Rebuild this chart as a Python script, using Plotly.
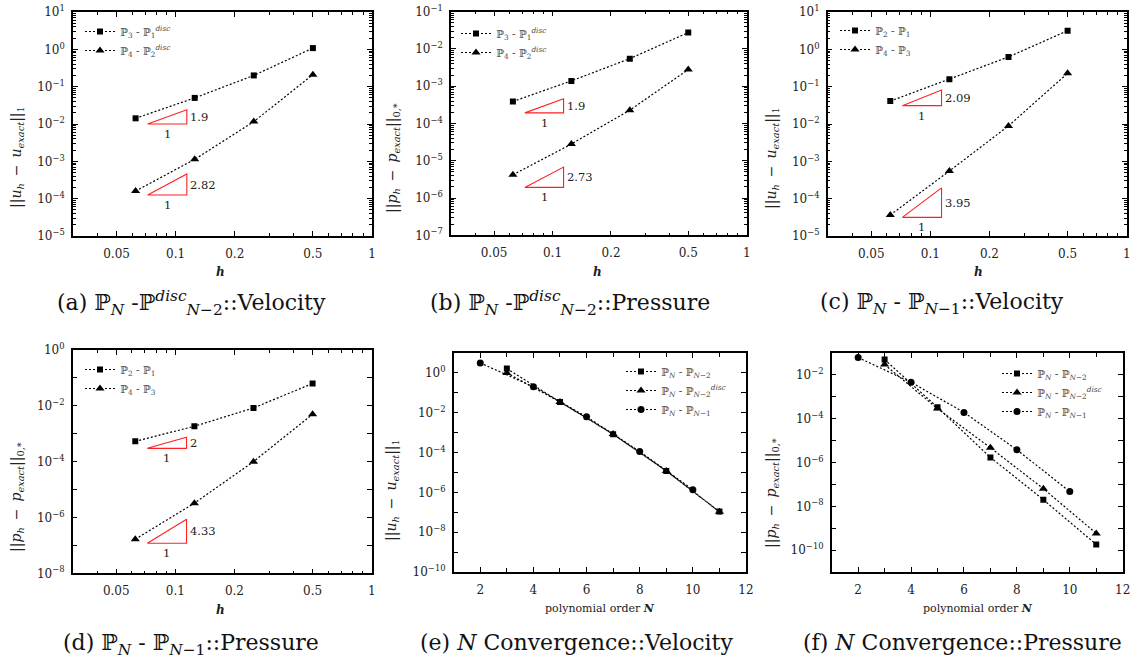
import math
import plotly.graph_objects as go

W, H = 1133, 664

# ---------------- data ----------------
h = [0.0625, 0.125, 0.25, 0.5]
a_sq = [1.42e-2, 5.0e-2, 2.0e-1, 1.08]
a_tri = [1.6e-4, 1.13e-3, 1.16e-2, 2.1e-1]
b_sq = [3.9e-4, 1.39e-3, 5.5e-3, 2.75e-2]
b_tri = [4.2e-6, 2.8e-5, 2.28e-4, 2.8e-3]
c_sq = [4.1e-2, 1.57e-1, 6.25e-1, 3.16]
c_tri = [3.66e-5, 5.5e-4, 8.9e-3, 2.28e-1]
d_sq = [5.35e-4, 1.85e-3, 8.4e-3, 6.3e-2]
d_tri = [1.66e-7, 3.26e-6, 1.0e-4, 4.97e-3]

N_odd = [3, 5, 7, 9, 11]
N_even = [2, 4, 6, 8, 10]
e_sq = [1.65, 3.5e-2, 8.3e-4, 1.2e-5, 1.08e-7]
e_tri = [1.0, 3.5e-2, 8.5e-4, 1.2e-5, 1.05e-7]
e_circ = [3.16, 0.2, 6.3e-3, 1.12e-4, 1.36e-6]
f_sq = [5.0e-2, 3.3e-4, 1.7e-6, 2.0e-8, 1.8e-10]
f_tri = [2.95e-2, 2.9e-4, 4.7e-6, 6.4e-8, 5.8e-10]
f_circ = [6.2e-2, 4.6e-3, 1.94e-4, 3.8e-6, 4.7e-8]

# slope triangles (h-range, base values, slopes) per h-panel
tri_h = [0.072, 0.114]
slope_a = [1.9, 2.82]; base_a = [1.0e-2, 1.25e-4]
slope_b = [1.9, 2.73]; base_b = [1.93e-4, 1.93e-6]
slope_c = [2.09, 3.95]; base_c = [3.1e-2, 3.16e-5]
slope_d = [2, 4.33]; base_d = [3.0e-4, 1.19e-7]

h_ticks = [0.05, 0.1, 0.2, 0.5, 1]
h_ticktext = ["0.05", "0.1", "0.2", "0.5", "1"]
h_minor = [0.03, 0.04, 0.06, 0.07, 0.08, 0.09, 0.3, 0.4, 0.6, 0.7, 0.8, 0.9]

P = "\u2119"
leg_disc = [P + "<sub>3</sub> - " + P + "<sub>1</sub><sup><i>disc</i></sup>",
            P + "<sub>4</sub> - " + P + "<sub>2</sub><sup><i>disc</i></sup>"]
leg_cont = [P + "<sub>2</sub> - " + P + "<sub>1</sub>",
            P + "<sub>4</sub> - " + P + "<sub>3</sub>"]
leg_N = [P + "<sub><i>N</i></sub> - " + P + "<sub><i>N</i>\u22122</sub>",
         P + "<sub><i>N</i></sub> - " + P + "<sub><i>N</i>\u22122</sub><sup><i>disc</i></sup>",
         P + "<sub><i>N</i></sub> - " + P + "<sub><i>N</i>\u22121</sub>"]

captions = [
    "(a) " + P + "<sub><i>N</i></sub> -" + P + "<sup><i>disc</i></sup><sub><i>N</i>\u22122</sub>::Velocity",
    "(b) " + P + "<sub><i>N</i></sub> -" + P + "<sup><i>disc</i></sup><sub><i>N</i>\u22122</sub>::Pressure",
    "(c) " + P + "<sub><i>N</i></sub> - " + P + "<sub><i>N</i>\u22121</sub>::Velocity",
    "(d) " + P + "<sub><i>N</i></sub> - " + P + "<sub><i>N</i>\u22121</sub>::Pressure",
    "(e) <i>N</i> Convergence::Velocity",
    "(f) <i>N</i> Convergence::Pressure",
]
ytitle_u = "||<i>u<sub>h</sub></i>\u2002\u2212\u2002<i>u<sub>exact</sub></i>||<sub>1</sub>"
ytitle_p = "||<i>p<sub>h</sub></i>\u2002\u2212\u2002<i>p<sub>exact</sub></i>||<sub>0,*</sub>"

# ---------------- layout geometry (pixels) ----------------
boxes = [
    (73, 372, 12, 236),
    (451, 746.7, 11.7, 235.3),
    (827.7, 1126.7, 12, 236),
    (72.7, 371.7, 350, 573.3),
    (453.7, 746, 353, 572),
    (831.7, 1122.7, 353, 572),
]
yranges = [(-5, 1), (-7, -1), (-5, 1), (-8, 0), (-10, 1), (-11, -1)]
ymajor_step = [1, 1, 1, 2, 2, 2]
cap_pos = [(191, 303), (570, 303), (942, 303), (191, 644), (576, 642), (962, 642)]
ytit_pos = [(17, 157), (393, 158), (772, 158), (17, 497), (392, 490), (772, 493)]
ytit_txt = [ytitle_u, ytitle_p, ytitle_u, ytitle_p, ytitle_u, ytitle_p]
xtit_pos = [(220, 272), (598, 272), (978, 272), (220, 610), (600, 608), (978, 608)]
leg_pos = [(121, 26), (497, 28), (876, 25), (121, 364), (662, 366), (1038, 368)]

SERIF = "DejaVu Serif"
fig = go.Figure()

def px2x(p):
    return p / W

def px2y(p):
    return 1 - p / H

dot = "2px,2px"
blk = "black"

def add_series(i, x, y, sym, size, name):
    ax = "" if i == 0 else str(i + 1)
    fig.add_trace(go.Scatter(
        x=x, y=y, mode="lines+markers", name=name,
        line=dict(color=blk, width=1.2, dash=dot),
        marker=dict(symbol=sym, size=size, color=blk),
        xaxis="x" + ax, yaxis="y" + ax, legend="legend" + ax,
    ))

def add_slope(i, base, slope):
    ax = "" if i == 0 else str(i + 1)
    x0, x1 = tri_h
    top = base * (x1 / x0) ** slope
    fig.add_trace(go.Scatter(
        x=[x0, x1, x1, x0], y=[base, base, top, base], mode="lines",
        line=dict(color="#ff2020", width=1.1), showlegend=False,
        hoverinfo="skip", xaxis="x" + ax, yaxis="y" + ax,
    ))
    ymid = (math.log10(base) + math.log10(top)) / 2
    fig.add_annotation(x=math.log10(x1), y=ymid, xref="x" + ax, yref="y" + ax,
                       text=("%g" % slope), showarrow=False, xanchor="left",
                       yanchor="middle", xshift=1,
                       font=dict(family=SERIF, size=11.5, color="#222"))
    fig.add_annotation(x=(math.log10(x0) + math.log10(x1)) / 2, y=math.log10(base),
                       xref="x" + ax, yref="y" + ax, text="1", showarrow=False,
                       xanchor="center", yanchor="top", yshift=-1,
                       font=dict(family=SERIF, size=11.5, color="#222"))

h_sets = [(a_sq, a_tri, leg_disc, slope_a, base_a),
          (b_sq, b_tri, leg_disc, slope_b, base_b),
          (c_sq, c_tri, leg_cont, slope_c, base_c),
          (d_sq, d_tri, leg_cont, slope_d, base_d)]
for i, (sq, tr, legs, sl, bs) in enumerate(h_sets):
    add_series(i, h, sq, "square", 6, legs[0])
    add_series(i, h, tr, "triangle-up", 8, legs[1])
    for s, b in zip(sl, bs):
        add_slope(i, b, s)

for i, (sq, tr, ci) in [(4, (e_sq, e_tri, e_circ)), (5, (f_sq, f_tri, f_circ))]:
    add_series(i, N_odd, sq, "square", 6, leg_N[0])
    add_series(i, N_odd, tr, "triangle-up", 8, leg_N[1])
    add_series(i, N_even, ci, "circle", 7, leg_N[2])

layout = dict(
    width=W, height=H, margin=dict(l=0, r=0, t=0, b=0, autoexpand=False),
    paper_bgcolor="white", plot_bgcolor="white",
    font=dict(family=SERIF, size=12, color="#222"),
)
tickfont = dict(family=SERIF, size=12, color="#222")

def pow_label(k):
    return "10<sup>" + (str(k) if k >= 0 else "\u2212" + str(-k)) + "</sup>"

for i, (l, r, t, b) in enumerate(boxes):
    ax = "" if i == 0 else str(i + 1)
    common = dict(showline=True, linecolor=blk, linewidth=1.5, mirror="ticks",
                  ticks="inside", tickcolor=blk, tickwidth=1, showgrid=False,
                  zeroline=False, tickfont=tickfont, automargin=False)
    if i < 4:
        xa = dict(type="log", range=[math.log10(0.03), 0], tickmode="array",
                  tickvals=h_ticks, ticktext=h_ticktext, ticklen=5,
                  ticklabelstandoff=6,
                  minor=dict(tickmode="array", tickvals=h_minor, ticks="inside",
                             ticklen=3, tickcolor=blk, showgrid=False))
    else:
        xa = dict(type="linear", range=[1, 12], dtick=2, tick0=0, ticklen=5,
                  ticklabelstandoff=6,
                  minor=dict(dtick=1, ticks="inside", ticklen=4, tickcolor=blk,
                             showgrid=False))
    xa.update(common)
    xa.update(domain=[px2x(l), px2x(r)], anchor="y" + ax)
    lo, hi = yranges[i]
    step = ymajor_step[i]
    ks = [k for k in range(lo, hi + 1) if k % step == 0]
    ya = dict(type="log", range=[lo, hi], tickmode="array",
              tickvals=[10.0 ** k for k in ks], ticktext=[pow_label(k) for k in ks],
              ticklen=5, ticklabelstandoff=4)
    if step == 1:
        ya["minor"] = dict(dtick="D1", ticks="inside", ticklen=3, tickcolor=blk,
                           showgrid=False)
    else:
        ya["minor"] = dict(tickmode="array",
                           tickvals=[10.0 ** k for k in range(lo, hi + 1) if k % step],
                           ticks="inside", ticklen=5, tickcolor=blk, showgrid=False)
    ya.update(common)
    ya.update(domain=[px2y(b), px2y(t)], anchor="x" + ax)
    layout["xaxis" + ax] = xa
    layout["yaxis" + ax] = ya
    lx, ly = leg_pos[i]
    layout["legend" + ax] = dict(
        x=px2x(lx - 41), y=px2y(ly - 9), xanchor="left", yanchor="top",
        bgcolor="rgba(0,0,0,0)", font=dict(family=SERIF, size=10.5, color="#444"),
        tracegroupgap=0, itemwidth=30)

fig.update_layout(**layout)

for i in range(6):
    cx, cy = cap_pos[i]
    fig.add_annotation(x=px2x(cx), y=px2y(cy), xref="paper", yref="paper",
                       xanchor="center", yanchor="middle",
                       text=captions[i], showarrow=False,
                       font=dict(family=SERIF, size=22, color="#111"))
    tx, ty = ytit_pos[i]
    fig.add_annotation(x=px2x(tx), y=px2y(ty), xref="paper", yref="paper",
                       xanchor="center", yanchor="middle",
                       text=ytit_txt[i], showarrow=False, textangle=-90,
                       font=dict(family=SERIF, size=14, color="#222"))
    hx, hy = xtit_pos[i]
    xt = "<b><i>h</i></b>" if i < 4 else "polynomial order <b><i>N</i></b>"
    fig.add_annotation(x=px2x(hx), y=px2y(hy), xref="paper", yref="paper",
                       xanchor="center", yanchor="middle",
                       text=xt, showarrow=False,
                       font=dict(family=SERIF, size=12 if i < 4 else 11, color="#222"))

fig.write_html("out.html", config={"displayModeBar": False},
               post_script="document.body.style.margin='0';document.body.style.overflow='hidden';")
